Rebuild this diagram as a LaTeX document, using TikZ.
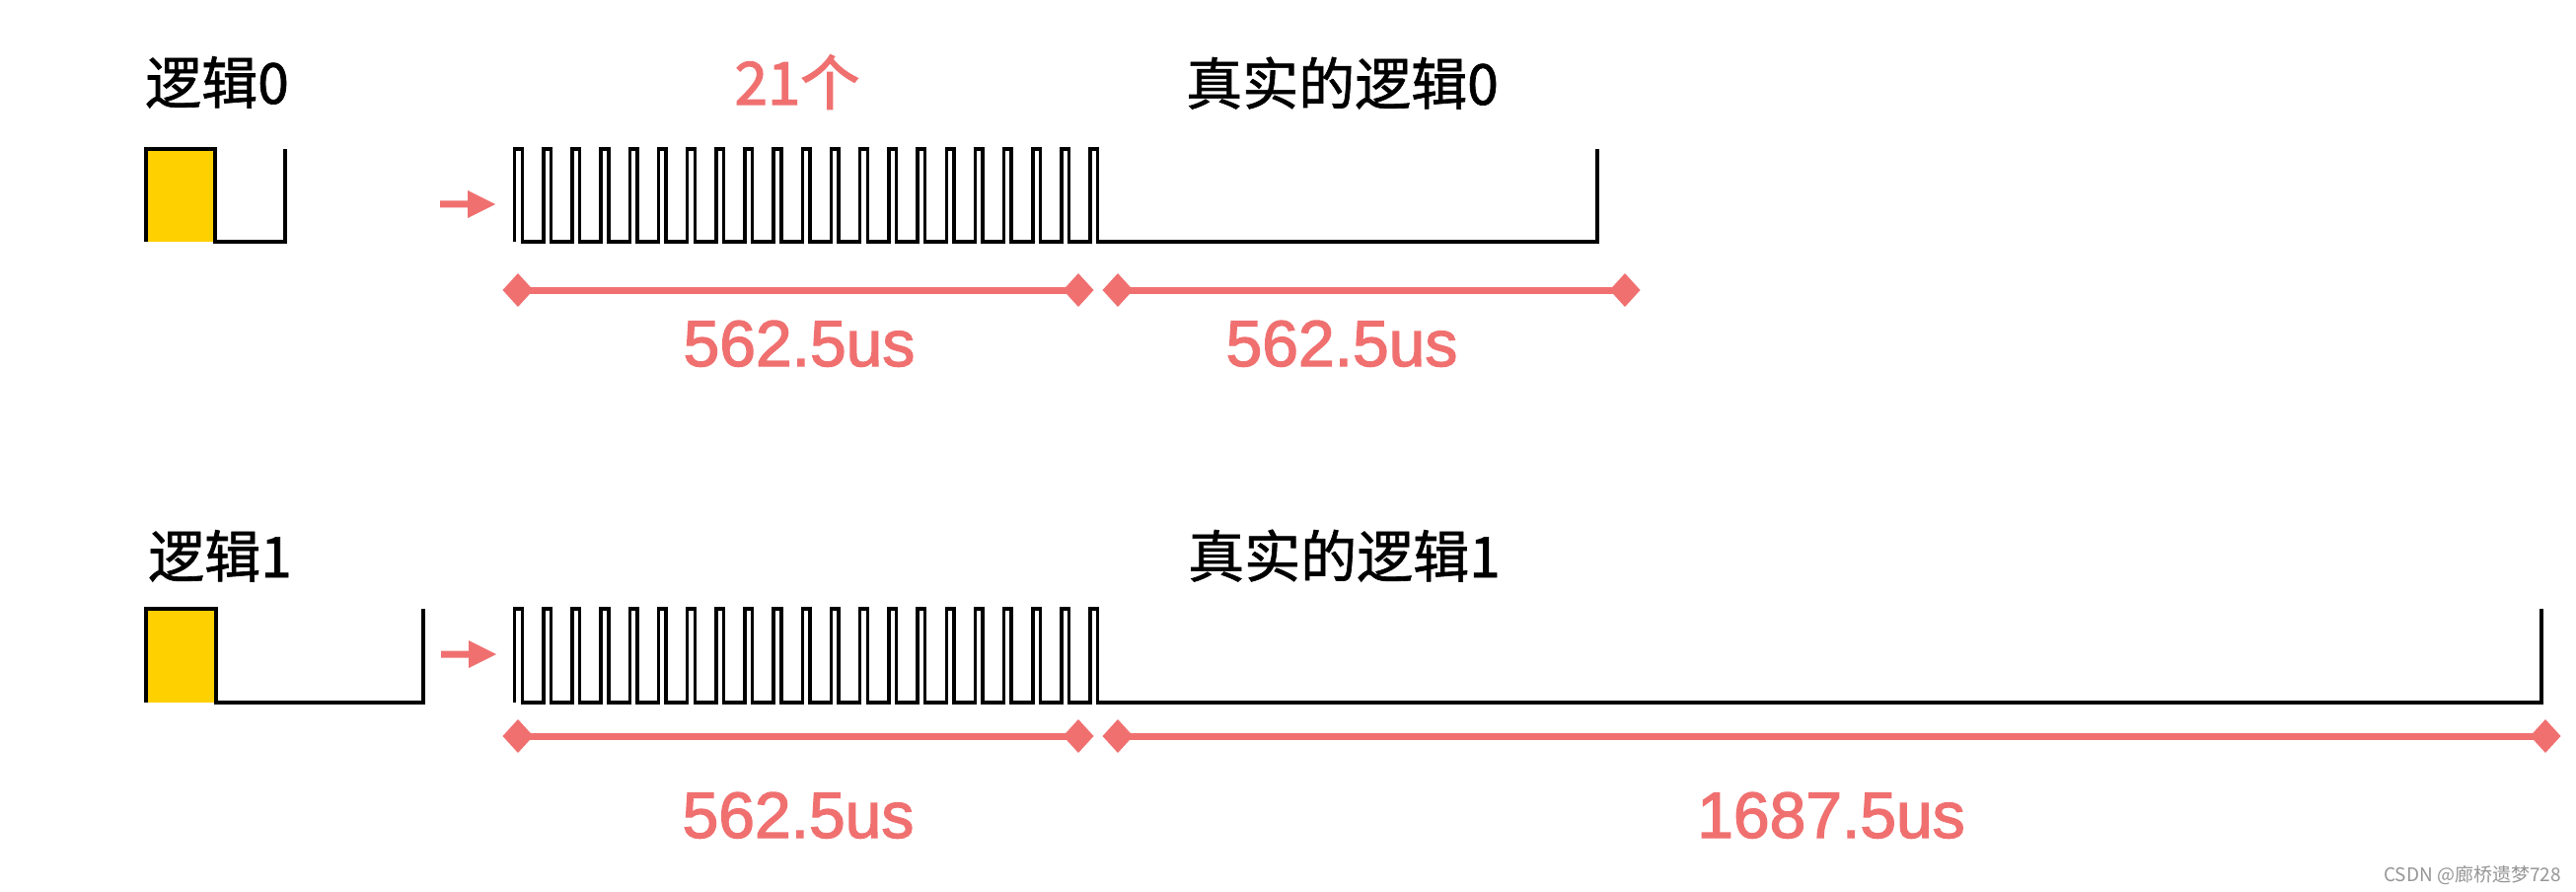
\documentclass[tikz,border=0pt]{standalone}
\usepackage{fontspec}
\newfontfamily\cjk{Noto Sans CJK SC}
\newfontfamily\cjkb{Noto Sans CJK SC}[FakeBold=1.2]
\newfontfamily\cjkr{Noto Sans CJK SC}[FakeBold=2.2]
\newfontfamily\numfont{Liberation Sans}[FakeBold=2]
\definecolor{irred}{RGB}{240,112,112}
\definecolor{iryel}{RGB}{255,208,0}
\definecolor{wmgray}{RGB}{150,150,150}
\newcommand\IRarrow[2]{\fill[irred] (#1,#2-3.5) -- (#1+28,#2-3.5) -- (#1+28,#2-14) -- (#1+56,#2) -- (#1+28,#2+14) -- (#1+28,#2+3.5) -- (#1,#2+3.5) -- cycle;}
\newcommand\IRdia[2]{\fill[irred] (#1-15.5,#2) -- (#1,#2-17) -- (#1+15.5,#2) -- (#1,#2+17) -- cycle;}
\begin{document}
\begin{tikzpicture}[x=1pt,y=-1pt,
  wave/.style={line width=3.5pt, line join=miter, line cap=butt, draw=black},
  dimline/.style={draw=irred, line width=7pt},
  blabel/.style={font=\cjkb\fontsize{57}{60}\selectfont, text=black, inner sep=0pt},
  rlabel/.style={font=\cjkr\fontsize{60}{64}\selectfont, text=irred, inner sep=0pt},
  rnum/.style={font=\numfont\fontsize{66}{70}\selectfont, text=irred, inner sep=0pt},
  wmark/.style={font=\cjk\fontsize{19}{21}\selectfont, text=wmgray, inner sep=0pt}]
\useasboundingbox (0,0) rectangle (2611,904);
\fill[white] (0,0) rectangle (2611,904);

% ---------- row 1 ----------
\node[blabel, anchor=base west] (l0) at (147,105) {逻辑0};
\node[rlabel, anchor=base] (n21) at (808,106) {21个};
\node[blabel, anchor=base west] (r0) at (1202,106) {真实的逻辑0};

\fill[iryel] (148,151) rectangle (218,245);
\draw[wave] (148,245) -- (148,151) -- (218,151) -- (218,245) -- (289,245) -- (289,151);
\IRarrow{446}{207}
\draw[wave] (521.7,245) foreach \i in {1,...,21} { -- ++(0,-94) -- ++(7.6,0) -- ++(0,94) -- ++(21.57,0) } -- (1619,245) -- (1619,151);

\draw[dimline] (525,294) -- (1093,294);
\draw[dimline] (1133,294) -- (1647,294);
\IRdia{525}{294}\IRdia{1093}{294}\IRdia{1133}{294}\IRdia{1647}{294}
\node[rnum, anchor=base] (t1) at (810,371) {562.5us};
\node[rnum, anchor=base] (t2) at (1360,371) {562.5us};

% ---------- row 2 ----------
\node[blabel, anchor=base west] (l1) at (150,585) {逻辑1};
\node[blabel, anchor=base west] (r1) at (1204,585) {真实的逻辑1};

\fill[iryel] (148,617) rectangle (219,712);
\draw[wave] (148,712) -- (148,617) -- (219,617) -- (219,712) -- (429,712) -- (429,617);
\IRarrow{447}{663}
\draw[wave] (521.7,712) foreach \i in {1,...,21} { -- ++(0,-95) -- ++(7.6,0) -- ++(0,95) -- ++(21.57,0) } -- (2576,712) -- (2576,617);

\draw[dimline] (525,746) -- (1093,746);
\draw[dimline] (1133,746) -- (2580,746);
\IRdia{525}{746}\IRdia{1093}{746}\IRdia{1133}{746}\IRdia{2580}{746}
\node[rnum, anchor=base] (t3) at (809,849) {562.5us};
\node[rnum, anchor=base] (t4) at (1856,849) {1687.5us};

\node[wmark, anchor=base east] (wm) at (2596,893) {CSDN @廊桥遗梦728};
\end{tikzpicture}
\end{document}
